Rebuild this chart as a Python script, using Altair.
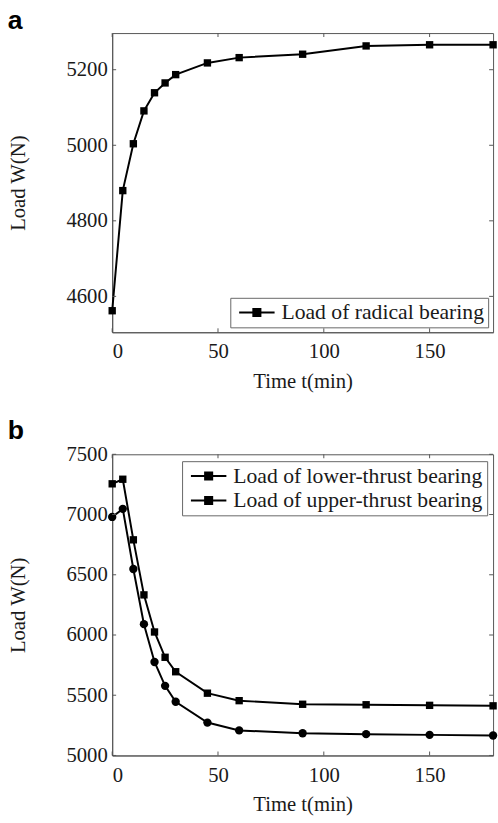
import altair as alt
import pandas as pd

# ---------------- data ----------------
time_min = [0, 5, 10, 15, 20, 25, 30, 45, 60, 90, 120, 150, 180]
radial_load = [4562, 4880, 5004, 5091, 5139, 5165, 5187, 5218, 5232, 5241, 5263, 5266, 5266]
lower_thrust_load = [7255, 7293, 6790, 6333, 6025, 5815, 5695, 5517, 5455, 5425, 5421, 5416, 5412]
upper_thrust_load = [6980, 7047, 6548, 6090, 5776, 5578, 5446, 5273, 5208, 5184, 5177, 5171, 5166]

x_ticks = [0, 50, 100, 150]
ya_ticks = [4600, 4800, 5000, 5200]
yb_ticks = [5000, 5500, 6000, 6500, 7000, 7500]

name_a = "Load of radical bearing"
name_lower = "Load of lower-thrust bearing"
name_upper = "Load of upper-thrust bearing"

# --------------- styling ---------------
SERIF = "Liberation Serif"
FS = 21
W = 387
HA = 304
HB = 306
AXIS_COLOR = "#555555"
TEXT_COLOR = "#1a1a1a"
TICK_LEN = 4

legend_symbol = "M-2,0L2,0M-0.4,-0.4L0.4,-0.4L0.4,0.4L-0.4,0.4Z"

df_a = pd.DataFrame({"t": time_min, "W": radial_load, "series": name_a})
df_lower = pd.DataFrame({"t": time_min, "W": lower_thrust_load, "series": name_lower})
df_upper = pd.DataFrame({"t": time_min, "W": upper_thrust_load, "series": name_upper})
df_b = pd.concat([df_lower, df_upper])

XSC = alt.Scale(domain=[0, 180], nice=False, zero=False)


def x_enc():
    return alt.X("t:Q", scale=XSC,
                 axis=alt.Axis(values=x_ticks, title="Time t(min)", tickSize=0, format="d",
                               labelPadding=9, titlePadding=9, grid=False))


def y_enc(domain, ticks):
    return alt.Y("W:Q",
                 scale=alt.Scale(domain=domain, nice=False, zero=False),
                 axis=alt.Axis(values=ticks, title="Load W(N)", tickSize=0, format="d",
                               labelPadding=5, titlePadding=38, grid=False))


def ticks(domain, yticks, height):
    xs = pd.DataFrame({"t": x_ticks})
    ys = pd.DataFrame({"W": yticks})
    rule = dict(color=AXIS_COLOR, strokeWidth=1)
    return [
        alt.Chart(xs).mark_rule(**rule).encode(
            x=x_enc(), y=alt.value(height), y2=alt.value(height - TICK_LEN)),
        alt.Chart(xs).mark_rule(**rule).encode(
            x=x_enc(), y=alt.value(0), y2=alt.value(TICK_LEN)),
        alt.Chart(ys).mark_rule(**rule).encode(
            y=y_enc(domain, yticks), x=alt.value(0), x2=alt.value(TICK_LEN)),
        alt.Chart(ys).mark_rule(**rule).encode(
            y=y_enc(domain, yticks), x=alt.value(W - TICK_LEN), x2=alt.value(W)),
    ]


legend_common = dict(
    title=None, orient="none", labelFont=SERIF, labelFontSize=22,
    labelColor=TEXT_COLOR, strokeColor="#666666", fillColor="white",
    padding=4, symbolType=legend_symbol, symbolSize=324,
    symbolStrokeWidth=2, symbolStrokeColor="black", symbolFillColor="black",
    symbolOpacity=1, symbolOffset=12, labelOffset=14, rowPadding=3, labelLimit=400,
)

# ---------------- panel a ----------------
dom_a = [4505, 5297]
line_a = alt.Chart(df_a).mark_line(strokeWidth=2).encode(
    x=x_enc(), y=y_enc(dom_a, ya_ticks),
    color=alt.Color("series:N", scale=alt.Scale(domain=[name_a], range=["black"]),
                    legend=alt.Legend(legendX=120, legendY=269, **legend_common)))
pts_a = alt.Chart(df_a).mark_point(shape="square", filled=True, size=56, opacity=1,
                                   color="black").encode(
    x=x_enc(), y=y_enc(dom_a, ya_ticks))
panel_a = alt.layer(line_a, pts_a, *ticks(dom_a, ya_ticks, HA)).properties(
    width=W, height=HA,
    title=alt.TitleParams("a", anchor="start", font="Liberation Sans", fontWeight="bold",
                          fontSize=27, color="black", dx=0, dy=2, offset=0))

# ---------------- panel b ----------------
dom_b = [5000, 7500]
line_b = alt.Chart(df_b).mark_line(strokeWidth=2).encode(
    x=x_enc(), y=y_enc(dom_b, yb_ticks),
    color=alt.Color("series:N", scale=alt.Scale(domain=[name_lower, name_upper],
                                                range=["black", "black"]),
                    legend=alt.Legend(legendX=71, legendY=7, **legend_common)))
pts_lower = alt.Chart(df_lower).mark_point(shape="square", filled=True, size=56, opacity=1,
                                           color="black").encode(
    x=x_enc(), y=y_enc(dom_b, yb_ticks))
pts_upper = alt.Chart(df_upper).mark_point(shape="circle", filled=True, size=72, opacity=1,
                                           color="black").encode(
    x=x_enc(), y=y_enc(dom_b, yb_ticks))
panel_b = alt.layer(line_b, pts_lower, pts_upper, *ticks(dom_b, yb_ticks, HB)).properties(
    width=W, height=HB,
    title=alt.TitleParams("b", anchor="start", font="Liberation Sans", fontWeight="bold",
                          fontSize=27, color="black", dx=0, dy=2, offset=1))

chart = alt.vconcat(panel_a, panel_b, spacing=24).resolve_scale(
    color="independent"
).properties(
    padding={"left": 7, "top": 0, "right": 0, "bottom": 0},
    background="white",
).configure_view(
    stroke=AXIS_COLOR, strokeWidth=1
).configure_axis(
    labelFont=SERIF, labelFontSize=FS, labelColor=TEXT_COLOR,
    titleFont=SERIF, titleFontSize=FS, titleColor=TEXT_COLOR, titleFontWeight="normal",
    domainColor=AXIS_COLOR, domainWidth=1,
)

chart.save("out.html", embed_options={"renderer": "svg", "actions": False})
